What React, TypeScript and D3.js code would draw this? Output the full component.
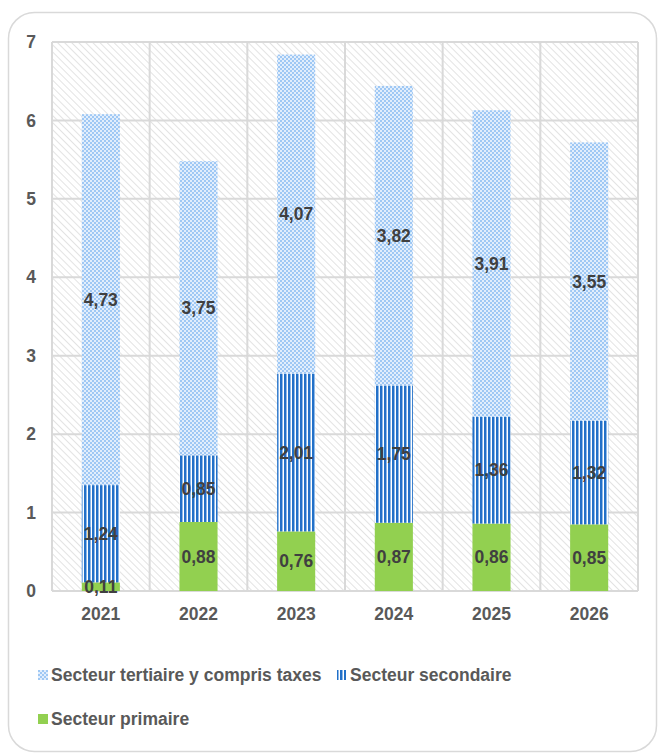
import React from "react";
import * as d3 from "d3";

const years = ["2021", "2022", "2023", "2024", "2025", "2026"];
const primaire = [0.11, 0.88, 0.76, 0.87, 0.86, 0.85];
const secondaire = [1.24, 0.85, 2.01, 1.75, 1.36, 1.32];
const tertiaire = [4.73, 3.75, 4.07, 3.82, 3.91, 3.55];
const yTicks = [0, 1, 2, 3, 4, 5, 6, 7];
const seriesNames = ["Secteur tertiaire y compris taxes", "Secteur secondaire", "Secteur primaire"];

const W = 660;
const H = 754;
const M = { left: 52, top: 42, right: 638, bottom: 591 };

export default function App() {
  const x = d3.scaleBand<string>().domain(years).range([M.left, M.right]).paddingInner(0.61).paddingOuter(0.305);
  const xCat = d3.scaleBand<string>().domain(years).range([M.left, M.right]);
  const y = d3.scaleLinear().domain([0, 7]).range([M.bottom, M.top]);

  const rows = years.map((yr, i) => ({ yr, primaire: primaire[i], secondaire: secondaire[i], tertiaire: tertiaire[i] }));
  const stack = d3.stack<any>().keys(["primaire", "secondaire", "tertiaire"])(rows);
  const fills: Record<string, string> = {
    primaire: "#92d050",
    secondaire: "url(#stripes)",
    tertiaire: "url(#checker)",
  };
  const font = "'Liberation Sans', Arial, sans-serif";
  const fs = 17.5;

  return (
    <svg width={W} height={H} style={{ position: "absolute", left: 0, top: 0 }}>
      <defs>
        <pattern id="hatch" patternUnits="userSpaceOnUse" width="5" height="5" patternTransform="rotate(-45)">
          <rect width="5" height="5" fill="#ffffff" />
          <line x1="0" y1="0" x2="0" y2="5" stroke="#dcdcdc" strokeWidth="1.6" />
        </pattern>
        <pattern id="checker" patternUnits="userSpaceOnUse" width="4" height="4">
          <rect width="4" height="4" fill="#e2eefc" />
          <rect x="0" y="0" width="2" height="2" fill="#9fc8f4" />
          <rect x="2" y="2" width="2" height="2" fill="#9fc8f4" />
        </pattern>
        <pattern id="stripes" patternUnits="userSpaceOnUse" width="4" height="4">
          <rect width="4" height="4" fill="#ffffff" />
          <rect x="0" y="0" width="2" height="4" fill="#2270c8" />
          <rect x="2" y="0" width="1" height="4" fill="#8fb9e8" />
        </pattern>
      </defs>
      <rect x={8.5} y={12.5} width={648} height={739} rx={26} ry={26} fill="#ffffff" stroke="#d9d9d9" strokeWidth={1.5} />
      <rect x={M.left} y={M.top} width={M.right - M.left} height={M.bottom - M.top} fill="url(#hatch)" />
      {yTicks.map((t) => (
        <line key={"g" + t} x1={M.left} x2={M.right} y1={y(t)} y2={y(t)} stroke="#d9d9d9" strokeWidth={2} />
      ))}
      {years.map((yr) => (
        <line key={"v" + yr} x1={xCat(yr)!} x2={xCat(yr)!} y1={M.top} y2={M.bottom} stroke="#d9d9d9" strokeWidth={2} />
      ))}
      <line x1={M.right} x2={M.right} y1={M.top} y2={M.bottom} stroke="#d9d9d9" strokeWidth={2} />
      {stack.map((s) =>
        s.map((d, i) => (
          <rect
            key={s.key + i}
            x={x(years[i])!}
            y={y(d[1])}
            width={x.bandwidth()}
            height={y(d[0]) - y(d[1])}
            fill={fills[s.key]}
          />
        ))
      )}
      {stack.map((s) =>
        s.map((d, i) => (
          <text
            key={"l" + s.key + i}
            x={x(years[i])! + x.bandwidth() / 2}
            y={y((d[0] + d[1]) / 2)}
            dy="0.35em"
            textAnchor="middle"
            fontFamily={font}
            fontWeight="bold"
            fontSize={fs}
            fill="#404040"
          >
            {(d[1] - d[0]).toFixed(2).replace(".", ",")}
          </text>
        ))
      )}
      {yTicks.map((t) => (
        <text key={"t" + t} x={31} y={y(t)} dy="0.35em" textAnchor="middle" fontFamily={font} fontWeight="bold" fontSize={fs} fill="#595959">
          {t}
        </text>
      ))}
      {years.map((yr) => (
        <text key={"x" + yr} x={xCat(yr)! + xCat.bandwidth() / 2} y={614} dy="0.35em" textAnchor="middle" fontFamily={font} fontWeight="bold" fontSize={fs} fill="#595959">
          {yr}
        </text>
      ))}
      <g fontFamily={font} fontWeight="bold" fontSize={fs} fill="#595959">
        <rect x={38} y={670} width={10} height={10} fill="url(#checker)" />
        <text x={51} y={675} dy="0.35em">{seriesNames[0]}</text>
        <rect x={337} y={670} width={9} height={10} fill="url(#stripes)" />
        <text x={350} y={675} dy="0.35em">{seriesNames[1]}</text>
        <rect x={38} y={714} width={10} height={10} fill="#92d050" />
        <text x={51} y={719} dy="0.35em">{seriesNames[2]}</text>
      </g>
    </svg>
  );
}
